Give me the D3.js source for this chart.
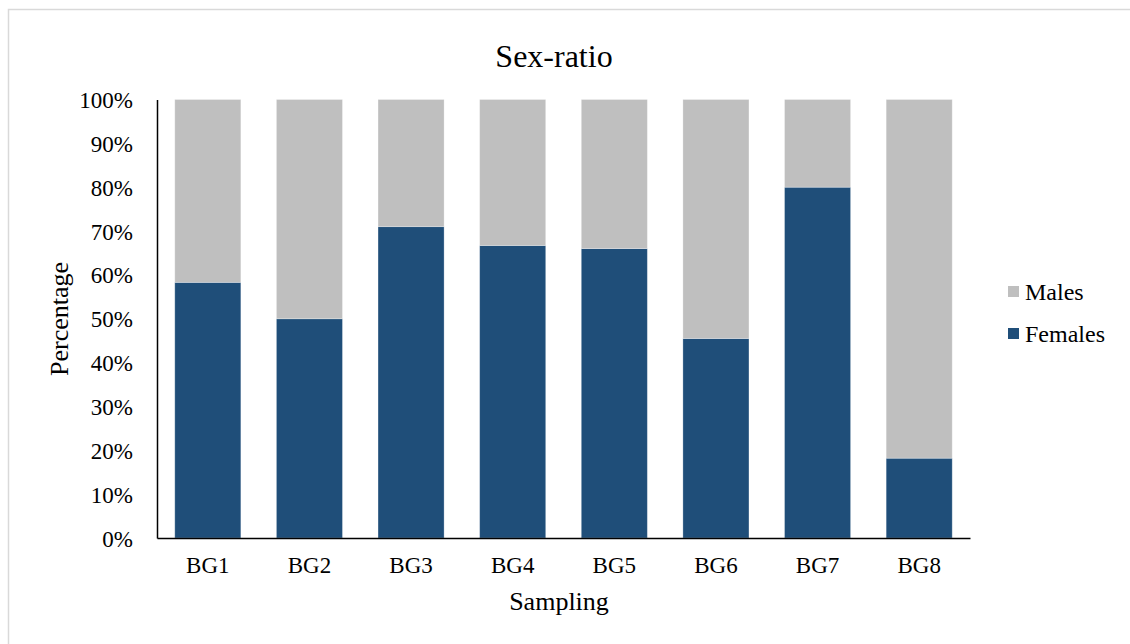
<!DOCTYPE html>
<html>
<head>
<meta charset="utf-8">
<script src="https://cdn.jsdelivr.net/npm/d3@7"></script>
<style>
  html, body { margin: 0; padding: 0; background: #fff; }
  svg { display: block; }
  text { font-family: "Liberation Serif", "Times New Roman", serif; fill: #000; }
</style>
</head>
<body>
<svg id="chart" width="1130" height="644"></svg>
<script>
// Sampling sites and the share of females / males at each
const categories = ["BG1", "BG2", "BG3", "BG4", "BG5", "BG6", "BG7", "BG8"];
const females = [0.583, 0.50, 0.71, 0.667, 0.66, 0.455, 0.80, 0.182];
const males = females.map(f => 1 - f);
const seriesNames = ["Females", "Males"];
const seriesColors = ["#1f4e79", "#bfbfbf"];
const yTicks = [0, 0.1, 0.2, 0.3, 0.4, 0.5, 0.6, 0.7, 0.8, 0.9, 1.0];

const svg = d3.select("#chart");

// outer frame
svg.append("rect")
  .attr("x", 8.5).attr("y", 9.5)
  .attr("width", 1140).attr("height", 660)
  .attr("fill", "#fff")
  .attr("stroke", "#d9d9d9").attr("stroke-width", 1.5);

const plot = { left: 157, right: 970, top: 99.5, bottom: 538 };

const x = d3.scaleBand()
  .domain(categories)
  .range([plot.left, plot.right])
  .paddingInner(0.35)
  .paddingOuter(0.175);

const y = d3.scaleLinear()
  .domain([0, 1])
  .range([plot.bottom, plot.top]);

const rows = categories.map((c, i) => ({ cat: c, Females: females[i], Males: males[i] }));
const stacked = d3.stack().keys(seriesNames)(rows);

svg.append("g").selectAll("g")
  .data(stacked)
  .join("g")
  .attr("fill", (d, i) => seriesColors[i])
  .selectAll("rect")
  .data(d => d)
  .join("rect")
  .attr("x", d => x(d.data.cat))
  .attr("width", x.bandwidth())
  .attr("y", d => y(d[1]))
  .attr("height", d => y(d[0]) - y(d[1]))
  .attr("stroke", "rgba(255,255,255,0.35)")
  .attr("stroke-width", 0.8);

// y axis
const yAxis = svg.append("g")
  .attr("transform", `translate(${plot.left},0)`)
  .call(d3.axisLeft(y).tickValues(yTicks).tickFormat(d3.format(".0%")).tickSize(0).tickPadding(24));
yAxis.select(".domain").attr("stroke", "#000").attr("stroke-width", 1.5);
yAxis.selectAll("text").style("font-size", "23px").attr("dy", "0.35em");

// x axis
const xAxis = svg.append("g")
  .attr("transform", `translate(0,${plot.bottom})`)
  .call(d3.axisBottom(x).tickSize(0).tickPadding(19));
xAxis.select(".domain").attr("stroke", "#000").attr("stroke-width", 1.5);
xAxis.selectAll("text").style("font-size", "23px");

// title
svg.append("text")
  .attr("x", 554).attr("y", 67)
  .attr("text-anchor", "middle")
  .style("font-size", "32px")
  .text("Sex-ratio");

// axis titles
svg.append("text")
  .attr("x", 559).attr("y", 610)
  .attr("text-anchor", "middle")
  .style("font-size", "26px")
  .text("Sampling");

svg.append("text")
  .attr("transform", "translate(68,319) rotate(-90)")
  .attr("text-anchor", "middle")
  .style("font-size", "26px")
  .text("Percentage");

// legend (Males above Females)
const legendItems = [
  { name: "Males", color: seriesColors[1] },
  { name: "Females", color: seriesColors[0] }
];
const legend = svg.append("g").attr("transform", "translate(1008,286)");
legend.selectAll("g")
  .data(legendItems)
  .join("g")
  .attr("transform", (d, i) => `translate(0,${i * 42})`)
  .each(function (d) {
    const g = d3.select(this);
    g.append("rect").attr("x", 0).attr("y", 0).attr("width", 11).attr("height", 11).attr("fill", d.color);
    g.append("text").attr("x", 17).attr("y", 14).style("font-size", "24px").text(d.name);
  });
</script>
</body>
</html>
